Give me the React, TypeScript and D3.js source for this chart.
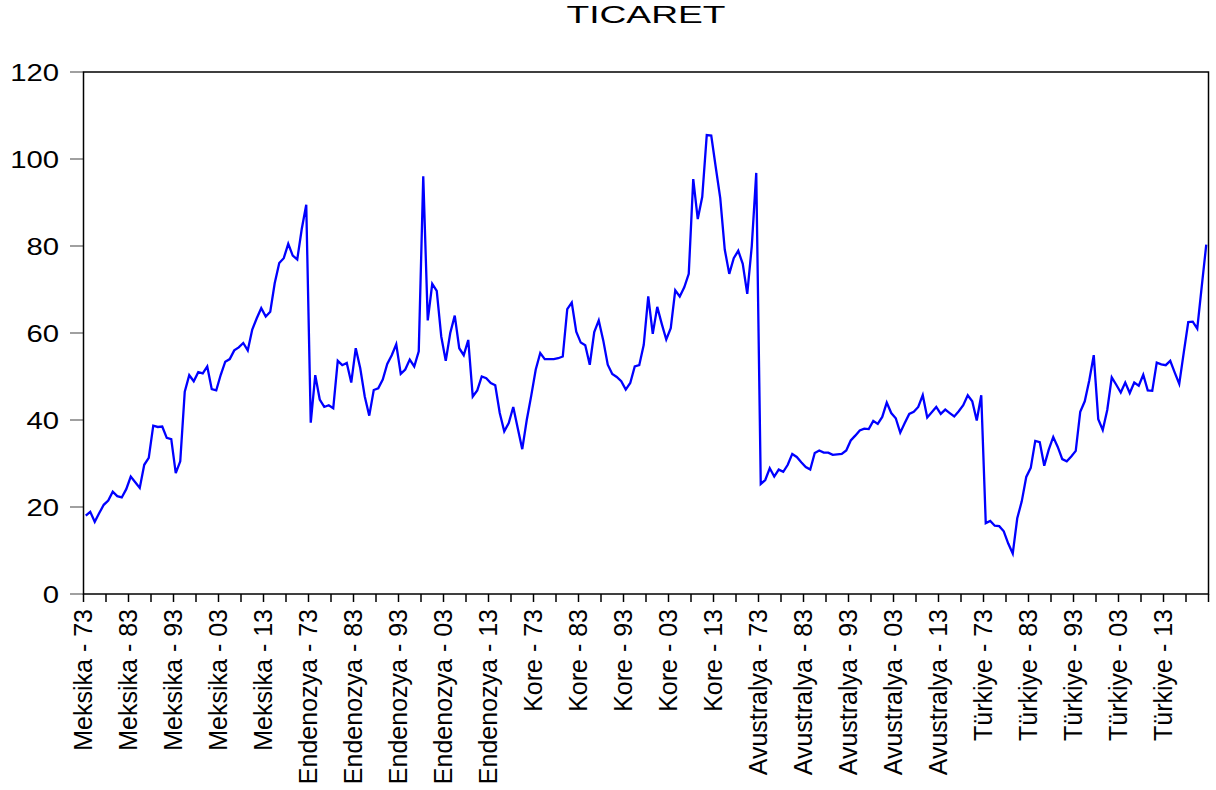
import React, { useEffect, useRef } from 'react';
import * as d3 from 'd3';

// panel: 5 countries x 50 years (1973-2022)
const countries = ['Meksika', 'Endenozya', 'Kore', 'Avustralya', 'Türkiye'];
const years = d3.range(1973, 2023).map(y => String(y % 100).padStart(2, '0'));

const meksika = [
  18.0, 18.9, 16.6, 18.6, 20.5, 21.5, 23.5, 22.5, 22.2, 24.1,
  27.0, 25.7, 24.4, 29.7, 31.3, 38.7, 38.4, 38.5, 35.9, 35.6,
  27.8, 30.5, 46.5, 50.3, 48.9, 51.0, 50.7, 52.3, 47.1, 46.8,
  50.4, 53.4, 54.0, 56.0, 56.7, 57.7, 56.0, 60.8, 63.4, 65.7,
  63.8, 64.9, 71.5, 76.1, 77.2, 80.5, 77.8, 76.9, 83.9, 89.5
];
const endenozya = [
  39.4, 50.3, 44.7, 43.0, 43.4, 42.7, 53.6, 52.6, 53.1, 48.6,
  56.5, 51.9, 45.4, 41.0, 46.9, 47.3, 49.3, 52.9, 54.9, 57.4,
  50.6, 51.6, 53.9, 52.3, 55.8, 96.0, 62.9, 71.3, 69.7, 59.2,
  53.6, 60.0, 64.0, 56.5, 54.9, 58.4, 45.4, 46.8, 50.0, 49.6,
  48.5, 48.0, 41.6, 37.4, 39.3, 43.0, 38.1, 33.3, 40.0, 45.6
];
const kore = [
  51.6, 55.4, 54.0, 54.0, 54.0, 54.2, 54.6, 65.5, 67.0, 60.3,
  57.8, 57.2, 52.7, 60.2, 62.9, 58.3, 52.7, 50.6, 49.9, 48.9,
  47.0, 48.5, 52.3, 52.6, 57.3, 68.4, 59.8, 66.0, 62.1, 58.5,
  61.1, 69.8, 68.4, 70.5, 73.6, 95.4, 86.2, 91.3, 105.5, 105.4,
  98.1, 91.0, 79.2, 73.6, 77.2, 78.9, 75.9, 69.0, 79.9, 96.8
];
const avustralya = [
  25.3, 26.2, 28.9, 27.0, 28.6, 28.1, 29.7, 32.2, 31.5, 30.3,
  29.2, 28.6, 32.4, 33.0, 32.5, 32.5, 32.0, 32.1, 32.2, 33.0,
  35.3, 36.4, 37.6, 38.0, 37.9, 39.8, 39.1, 40.7, 44.0, 41.6,
  40.4, 37.1, 39.3, 41.4, 41.9, 43.0, 45.7, 40.6, 41.8, 43.0,
  41.4, 42.4, 41.6, 40.8, 42.0, 43.4, 45.7, 44.3, 39.9, 45.7
];
const turkiye = [
  16.3, 16.8, 15.7, 15.6, 14.4, 11.6, 9.3, 17.4, 21.3, 26.9,
  29.0, 35.2, 34.9, 29.5, 33.2, 36.1, 33.8, 31.0, 30.5, 31.6,
  32.9, 41.9, 44.3, 49.1, 54.9, 40.2, 37.7, 42.3, 49.8, 48.1,
  46.3, 48.6, 46.2, 48.6, 47.9, 50.4, 46.8, 46.7, 53.2, 52.8,
  52.6, 53.6, 50.9, 48.3, 55.5, 62.5, 62.6, 61.0, 70.7, 80.3
];

const yTicks = [0, 20, 40, 60, 80, 100, 120];

interface Obs {
  label: string;
  value: number;
}

const App: React.FC = () => {
  const svgRef = useRef<SVGSVGElement>(null);
  const width = 1216;
  const height = 790;

  useEffect(() => {
    if (!svgRef.current) return;
    const svg = d3.select(svgRef.current);
    svg.selectAll('*').remove();

    const font = '"Liberation Sans", Arial, sans-serif';
    const left = 83.5, right = 1208.5, top = 72, bottom = 594;

    const series = [meksika, endenozya, kore, avustralya, turkiye];
    const obs: Obs[] = countries.flatMap((c, ci) =>
      years.map((yr, yi) => ({ label: `${c} - ${yr}`, value: series[ci][yi] }))
    );

    const x = d3.scaleBand<number>()
      .domain(d3.range(obs.length))
      .range([left, right])
      .padding(0);
    const y = d3.scaleLinear().domain([0, 120]).range([bottom, top]);

    // title
    svg.append('text')
      .attr('transform', `translate(646,23) scale(1.55,1)`)
      .attr('text-anchor', 'middle')
      .style('font-family', font)
      .style('font-size', '24px')
      .attr('fill', '#000')
      .text('TICARET');

    // y axis ticks + labels
    const yAxis = svg.append('g');
    yTicks.forEach(t => {
      yAxis.append('line')
        .attr('x1', 70).attr('x2', left)
        .attr('y1', y(t)).attr('y2', y(t))
        .attr('stroke', '#808080')
        .attr('stroke-width', 1.5);
      yAxis.append('text')
        .attr('transform', `translate(59,${y(t)}) scale(1.22,1)`)
        .attr('dy', '0.36em')
        .attr('text-anchor', 'end')
        .style('font-family', font)
        .style('font-size', '24px')
        .attr('fill', '#000')
        .text(t);
    });

    // x axis ticks every 5 observations
    const xAxis = svg.append('g');
    d3.range(0, obs.length + 1, 5).forEach(i => {
      const px = i === obs.length ? right : (x(i) as number);
      xAxis.append('line')
        .attr('x1', px).attr('x2', px)
        .attr('y1', bottom).attr('y2', bottom + 8)
        .attr('stroke', '#000')
        .attr('stroke-width', 1.5);
    });

    // labels every 10 observations
    obs.forEach((d, i) => {
      if (i % 10 !== 0) return;
      xAxis.append('text')
        .attr('transform', `translate(${x(i)},609) rotate(-90)`)
        .attr('dy', '0.35em')
        .attr('text-anchor', 'end')
        .style('font-family', font)
        .style('font-size', '25px')
        .attr('fill', '#000')
        .text(d.label);
    });

    // series line
    const line = d3.line<Obs>()
      .x((d, i) => (x(i) as number) + x.bandwidth() / 2)
      .y(d => y(d.value));

    svg.append('path')
      .datum(obs)
      .attr('d', line)
      .attr('fill', 'none')
      .attr('stroke', '#0000ff')
      .attr('stroke-width', 2.3);

    // frame
    svg.append('rect')
      .attr('x', left).attr('y', top)
      .attr('width', right - left).attr('height', bottom - top)
      .attr('fill', 'none')
      .attr('stroke', '#000')
      .attr('stroke-width', 1.5);
  }, []);

  return (
    <svg
      ref={svgRef}
      width={width}
      height={height}
      style={{ position: 'absolute', left: 0, top: 0, background: '#fff' }}
    />
  );
};

export default App;
